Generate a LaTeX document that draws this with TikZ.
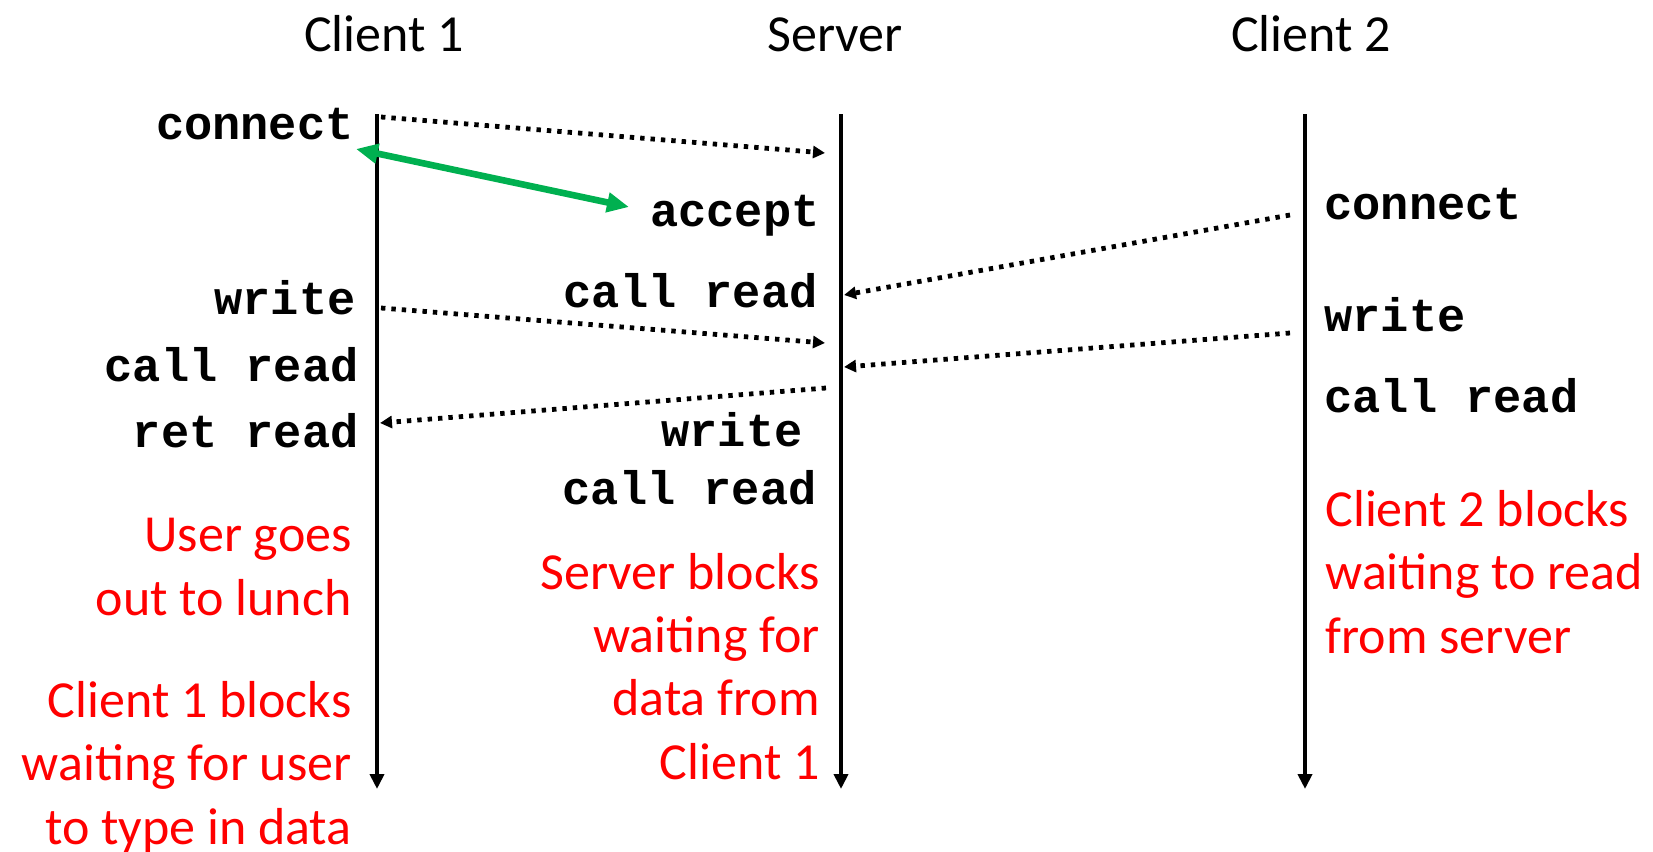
\documentclass[tikz,border=0pt]{standalone}
\usepackage{fontspec}
\setmainfont{Carlito}
\setmonofont{Liberation Mono}
\usetikzlibrary{arrows.meta}
\definecolor{okgreen}{RGB}{0,176,80}

\begin{document}
\begin{tikzpicture}[x=0.5pt,y=-0.5pt,
		title/.style = {font=\fontsize{26}{31}\selectfont},
		life/.style = {line width=2.2pt,-{Triangle[length=7.5pt,width=7pt]}},
		msg/.style = {line width=2.4pt,dash pattern=on 2.2pt off 3pt,-{Triangle[length=6pt,width=6pt]}}]
				\useasboundingbox (0,0) rectangle (1653,851);
				\node[title,anchor=base] (C1) at (384,51) {Client 1};
				\node[title,anchor=base] (S) at (835,51) {Server};
				\node[title,anchor=base] (C2) at (1311,51) {Client 2};
				% time lines
				\coordinate (C1top) at (377,114);
				\coordinate (C1bot) at (377,789);
				\coordinate (Stop) at (841,114);
				\coordinate (Sbot) at (841,789);
				\coordinate (C2top) at (1305,114);
				\coordinate (C2bot) at (1305,789);
				\draw [life] (C1top) -- (C1bot);
				\draw [life] (Stop) -- (Sbot);
				\draw [life] (C2top) -- (C2bot);
				\begin{scope}[every node/.style={inner sep=0pt,font=\fontsize{23.5}{28}\selectfont\ttfamily\bfseries}]
					\node[anchor=base east] (c1connect) at (354,139) {connect};
					\node[anchor=base east] (c1write) at (356,314) {write};
					\node[anchor=base east] (c1call) at (359,381) {call read};
					\node[anchor=base east] (c1ret) at (359,447) {ret read};
					\node[anchor=base east] (saccept) at (820,226) {accept};
					\node[anchor=base east] (scall) at (818,307) {call read};
					\node[anchor=base east] (swrite) at (803,446) {write};
					\node[anchor=base east] (scall2) at (817,504) {call read};
					\node[anchor=base west] (c2connect) at (1324,219) {connect};
					\node[anchor=base west] (c2write) at (1324,331) {write};
					\node[anchor=base west] (c2call) at (1324,412) {call read};
				\end{scope}
				% last line baselines
				\begin{scope}[every node/.style={inner sep=0pt,text=red,font=\fontsize{26}{31.6}\selectfont}]
					\node[anchor=base east,align=right] (lunch) at (352,615) {User goes\\out to lunch};
					\node[anchor=base east,align=right] (c1block) at (352,844) {Client 1 blocks\\waiting for user\\to type in data};
					\node[anchor=base east,align=right] (sblock) at (820,779) {Server blocks\\waiting for\\data from\\Client 1};
					\node[anchor=base west,align=left] (c2block) at (1325,653) {Client 2 blocks\\waiting to read\\from server};
				\end{scope}
				% messages
				\coordinate (m1a) at (381,117);
				\coordinate (m1b) at (825,153);
				\coordinate (m2a) at (356,149);
				\coordinate (m2b) at (629,207);
				\coordinate (m3a) at (1290,215);
				\coordinate (m3b) at (844,295);
				\coordinate (m4a) at (381,308);
				\coordinate (m4b) at (825,343);
				\coordinate (m5a) at (1290,333);
				\coordinate (m5b) at (844,367);
				\coordinate (m6a) at (826,388);
				\coordinate (m6b) at (380,423);
				\draw [msg] (m1a) -- (m1b);
				\draw [line width=3.3pt,okgreen,{Triangle[length=11pt,width=9.5pt]}-{Triangle[length=11pt,width=9.5pt]}] (m2a) -- (m2b);
				\draw [msg] (m3a) -- (m3b);
				\draw [msg] (m4a) -- (m4b);
				\draw [msg] (m5a) -- (m5b);
				\draw [msg] (m6a) -- (m6b);
			\end{tikzpicture}
\end{document}
